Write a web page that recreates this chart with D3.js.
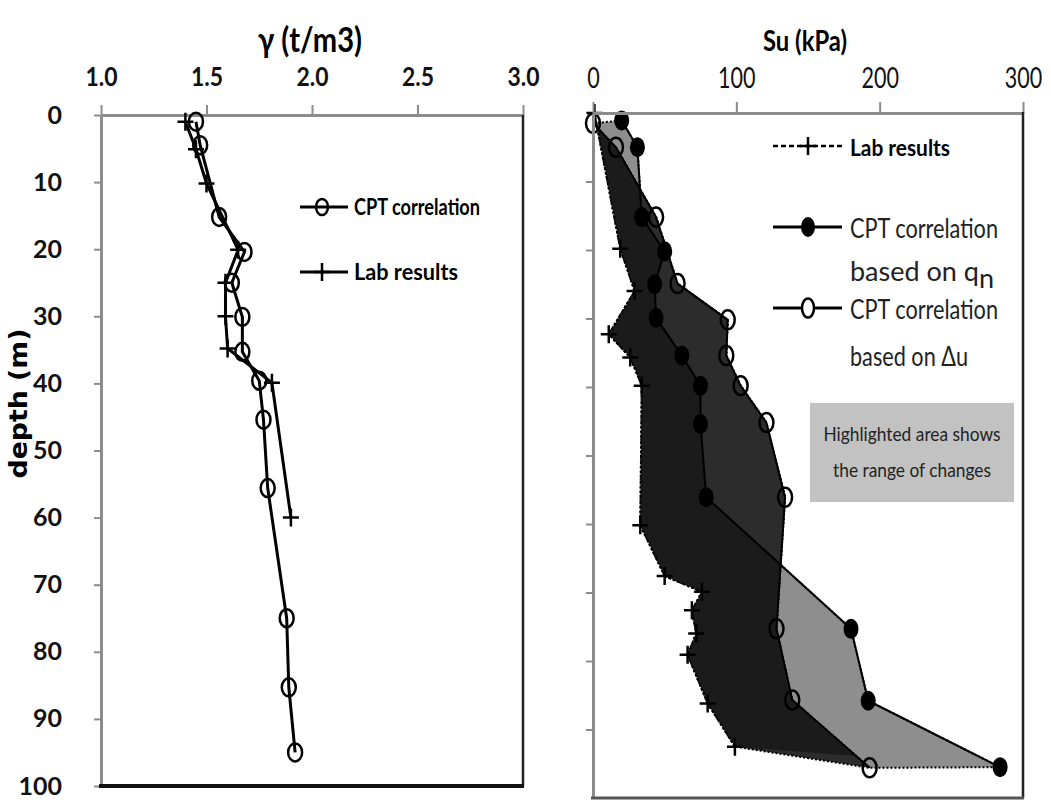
<!DOCTYPE html>
<html>
<head>
<meta charset="utf-8">
<script src="https://cdn.jsdelivr.net/npm/d3@7"></script>
<style>
  html, body { margin: 0; padding: 0; background: #fff; }
  svg { display: block; }
</style>
</head>
<body>
<div id="chart"></div>
<script>
// depth axis (m), shared by both panels
const depthTicks = [0, 10, 20, 30, 40, 50, 60, 70, 80, 90, 100];
const gammaTicks = [1.0, 1.5, 2.0, 2.5, 3.0];
const suTicks = [0, 100, 200, 300];

// unit weight, CPT correlation
const gammaCptDepth = [1.0, 4.5, 15.2, 20.4, 25.0, 30.1, 35.3, 39.6, 45.4, 55.6, 75.0, 85.3, 95.0];
const gammaCpt = [1.45, 1.47, 1.56, 1.68, 1.62, 1.67, 1.67, 1.75, 1.77, 1.79, 1.88, 1.89, 1.92];
// unit weight, lab results
const gammaLabDepth = [1.0, 5.1, 10.2, 20.1, 25.0, 30.0, 34.8, 39.9, 60.0];
const gammaLab = [1.40, 1.45, 1.50, 1.65, 1.59, 1.59, 1.60, 1.81, 1.90];

// Su, CPT correlation based on qn
const suQnDepth = [1.1, 5.0, 15.2, 20.2, 25.0, 29.9, 35.4, 39.8, 45.4, 56.1, 75.3, 85.8, 95.5];
const suQn = [20, 31, 34, 50, 43, 44, 62, 75, 75, 79, 180, 192, 284];
// Su, CPT correlation based on du
const suDuDepth = [1.5, 5.0, 15.2, 24.9, 30.2, 35.4, 39.8, 45.2, 56.1, 75.3, 85.7, 95.6];
const suDu = [0, 16, 44, 59, 94, 93, 103, 121, 134, 128, 139, 193];
// Su, lab results
const suLabDepth = [0, 19.8, 26.0, 32.3, 35.7, 39.8, 60.2, 67.6, 69.9, 72.6, 76.0, 79.1, 86.2, 92.5];
const suLab = [1, 19, 29, 11, 26, 34, 33, 50, 76, 69, 72, 66, 80, 99];

const W = 1051, H = 807;
const svg = d3.select('#chart').append('svg')
    .attr('width', W).attr('height', H)
    .attr('viewBox', `0 0 ${W} ${H}`);

const zip = (xs, ys) => xs.map((v, i) => [v, ys[i]]);
const plusPath = 'M-8,0H8M0,-9V9';

function txt(g, x, y, s, o) {
    const t = g.append('text')
        .attr('x', x).attr('y', y)
        .attr('font-family', o.family || 'Lato, "Open Sans", sans-serif')
        .attr('font-size', o.size)
        .attr('font-weight', o.weight || 'normal')
        .attr('text-anchor', o.anchor || 'start')
        .attr('fill', o.fill || '#000')
        .text(s);
    if (o.len) t.attr('textLength', o.len).attr('lengthAdjust', 'spacingAndGlyphs');
    return t;
}

function styleAxis(g, col, w) {
    g.select('.domain').attr('stroke', col).attr('stroke-width', w);
    g.selectAll('.tick line').attr('stroke', col).attr('stroke-width', 2);
}

// ---------- left panel: unit weight ----------
const xL = d3.scaleLinear().domain([1, 3]).range([101, 523]);
const yL = d3.scaleLinear().domain([0, 100]).range([115, 786]);
const left = svg.append('g');

const axTopL = left.append('g')
    .attr('transform', `translate(0,${yL(0)})`)
    .call(d3.axisTop(xL).tickValues(gammaTicks).tickSize(10).tickSizeOuter(0)
        .tickPadding(19).tickFormat(d3.format('.1f')));
styleAxis(axTopL, '#8c8c8c', 3);
axTopL.selectAll('.tick text')
    .attr('font-family', 'Lato, sans-serif').attr('font-size', 26)
    .attr('font-weight', 'bold').attr('fill', '#111')
    .attr('textLength', 32).attr('lengthAdjust', 'spacingAndGlyphs');

const axLeftL = left.append('g')
    .attr('transform', `translate(${xL(1)},0)`)
    .call(d3.axisLeft(yL).tickValues(depthTicks).tickSize(7).tickSizeOuter(0).tickPadding(32));
styleAxis(axLeftL, '#8c8c8c', 3);
axLeftL.selectAll('.tick text')
    .attr('font-family', 'Lato, sans-serif').attr('font-size', 25)
    .attr('font-weight', 'bold').attr('fill', '#111');

// frame right + bottom
left.append('line').attr('x1', xL(3)).attr('x2', xL(3)).attr('y1', yL(0)).attr('y2', yL(100))
    .attr('stroke', '#222').attr('stroke-width', 2.5);
left.append('line').attr('x1', xL(1) - 2).attr('x2', xL(3) + 1).attr('y1', yL(100)).attr('y2', yL(100))
    .attr('stroke', '#111').attr('stroke-width', 4);

txt(left, 310, 52, 'γ (t/m3)', { size: 35, weight: 'bold', anchor: 'middle', len: 104 });
txt(left, 0, 0, 'depth (m)', { size: 25, weight: 'bold', anchor: 'middle', family: '"DejaVu Sans", sans-serif', len: 150 })
    .attr('transform', `translate(27,${yL(43)}) rotate(-90)`);

const lineL = d3.line().x(d => xL(d[0])).y(d => yL(d[1]));
const cptL = zip(gammaCpt, gammaCptDepth);
const labL = zip(gammaLab, gammaLabDepth);

left.append('path').datum(labL).attr('d', lineL)
    .attr('fill', 'none').attr('stroke', '#000').attr('stroke-width', 3);
left.append('path').datum(cptL).attr('d', lineL)
    .attr('fill', 'none').attr('stroke', '#000').attr('stroke-width', 3);
left.selectAll('path.labL').data(labL).enter().append('path')
    .attr('class', 'labL')
    .attr('transform', d => `translate(${xL(d[0])},${yL(d[1])})`)
    .attr('d', plusPath).attr('stroke', '#000').attr('stroke-width', 2.5);
left.selectAll('ellipse.cptL').data(cptL).enter().append('ellipse')
    .attr('class', 'cptL')
    .attr('cx', d => xL(d[0])).attr('cy', d => yL(d[1]))
    .attr('rx', 7).attr('ry', 9)
    .attr('fill', 'none').attr('stroke', '#000').attr('stroke-width', 2.5);

// left legend
const legL = left.append('g');
legL.append('line').attr('x1', 300).attr('x2', 348).attr('y1', 207).attr('y2', 207)
    .attr('stroke', '#000').attr('stroke-width', 3);
legL.append('ellipse').attr('cx', 322).attr('cy', 207).attr('rx', 6).attr('ry', 8)
    .attr('fill', 'none').attr('stroke', '#000').attr('stroke-width', 2.5);
txt(legL, 354, 215, 'CPT correlation', { size: 22, weight: 'bold', len: 126 });
legL.append('line').attr('x1', 300).attr('x2', 348).attr('y1', 272).attr('y2', 272)
    .attr('stroke', '#000').attr('stroke-width', 3);
legL.append('path').attr('transform', 'translate(322,272)').attr('d', plusPath)
    .attr('stroke', '#000').attr('stroke-width', 2.5);
txt(legL, 354, 280, 'Lab results', { size: 22, weight: 'bold', len: 104 });

// ---------- right panel: undrained shear strength ----------
const xR = d3.scaleLinear().domain([0, 300]).range([593, 1023]);
const yR = d3.scaleLinear().domain([0, 100]).range([113, 798]);
const right = svg.append('g');

const qnR = zip(suQn, suQnDepth);
const duR = zip(suDu, suDuDepth);
const labR = zip(suLab, suLabDepth);
const lineR = d3.line().x(d => xR(d[0])).y(d => yR(d[1]));
const poly = (a, b) => lineR(a.concat(b.slice().reverse())) + 'Z';

right.append('defs').append('clipPath').attr('id', 'labDuClip')
    .append('path').attr('d', poly(labR, duR));

// range between the two CPT correlations
right.append('path').attr('d', poly(qnR, duR))
    .attr('fill', '#8e8e8e').attr('stroke', '#000').attr('stroke-width', 2)
    .attr('stroke-dasharray', '2,2');
// lab to du
right.append('path').attr('d', poly(labR, duR))
    .attr('fill', '#2c2c2c').attr('stroke', '#000').attr('stroke-width', 2)
    .attr('stroke-dasharray', '2,2');
// lab to qn (inside lab-du)
right.append('path').attr('d', poly(labR, qnR))
    .attr('clip-path', 'url(#labDuClip)')
    .attr('fill', '#1b1b1b');

right.append('path').datum(labR).attr('d', lineR)
    .attr('fill', 'none').attr('stroke', '#000').attr('stroke-width', 2)
    .attr('stroke-dasharray', '3,2');
right.append('path').datum(duR).attr('d', lineR)
    .attr('fill', 'none').attr('stroke', '#000').attr('stroke-width', 2);
right.append('path').datum(qnR).attr('d', lineR)
    .attr('fill', 'none').attr('stroke', '#000').attr('stroke-width', 2);

right.selectAll('path.labR').data(labR).enter().append('path')
    .attr('class', 'labR')
    .attr('transform', d => `translate(${xR(d[0])},${yR(d[1])})`)
    .attr('d', plusPath).attr('stroke', '#000').attr('stroke-width', 2.5);
right.selectAll('ellipse.qnR').data(qnR).enter().append('ellipse')
    .attr('class', 'qnR')
    .attr('cx', d => xR(d[0])).attr('cy', d => yR(d[1]))
    .attr('rx', 7.5).attr('ry', 10).attr('fill', '#000');
right.selectAll('ellipse.duR').data(duR).enter().append('ellipse')
    .attr('class', 'duR')
    .attr('cx', d => xR(d[0])).attr('cy', d => yR(d[1]))
    .attr('rx', 7).attr('ry', 9.5)
    .attr('fill', 'none').attr('stroke', '#000').attr('stroke-width', 2.5);

const axTopR = right.append('g')
    .attr('transform', `translate(0,${yR(0)})`)
    .call(d3.axisTop(xR).tickValues(suTicks).tickSize(11).tickSizeOuter(0).tickPadding(14));
styleAxis(axTopR, '#8c8c8c', 3);
axTopR.selectAll('.tick text')
    .attr('font-family', 'Lato, sans-serif').attr('font-size', 29)
    .attr('fill', '#111')
    .attr('textLength', d => String(d).length * 12.5).attr('lengthAdjust', 'spacingAndGlyphs');

const axLeftR = right.append('g')
    .attr('transform', `translate(${xR(0)},0)`)
    .call(d3.axisLeft(yR).tickValues(depthTicks.slice(1, -1)).tickSize(7).tickSizeOuter(0).tickFormat(''));
styleAxis(axLeftR, '#8c8c8c', 3);

right.append('line').attr('x1', xR(300)).attr('x2', xR(300)).attr('y1', yR(0) - 1).attr('y2', yR(100))
    .attr('stroke', '#222').attr('stroke-width', 2.5);
right.append('line').attr('x1', xR(0) - 2).attr('x2', xR(300) + 1).attr('y1', yR(100)).attr('y2', yR(100))
    .attr('stroke', '#555').attr('stroke-width', 3);

txt(right, 805, 51, 'Su (kPa)', { size: 29, weight: 'bold', anchor: 'middle', len: 84 });

// right legend
const legR = right.append('g');
legR.append('line').attr('x1', 773).attr('x2', 842).attr('y1', 146).attr('y2', 146)
    .attr('stroke', '#000').attr('stroke-width', 2.5).attr('stroke-dasharray', '5,3');
legR.append('path').attr('transform', 'translate(808,146)').attr('d', plusPath)
    .attr('stroke', '#000').attr('stroke-width', 2.5);
txt(legR, 850, 156, 'Lab results', { size: 22, weight: 'bold', len: 100 });

legR.append('line').attr('x1', 773).attr('x2', 842).attr('y1', 227).attr('y2', 227)
    .attr('stroke', '#000').attr('stroke-width', 3);
legR.append('ellipse').attr('cx', 808).attr('cy', 227).attr('rx', 7).attr('ry', 10).attr('fill', '#000');
txt(legR, 850, 238, 'CPT correlation', { size: 27, fill: '#222', len: 148 });
const qnLab = txt(legR, 850, 281, 'based on q', { size: 27, fill: '#222' });
qnLab.append('tspan').attr('dy', 7).text('n');

legR.append('line').attr('x1', 773).attr('x2', 842).attr('y1', 308).attr('y2', 308)
    .attr('stroke', '#000').attr('stroke-width', 3);
legR.append('ellipse').attr('cx', 808).attr('cy', 308).attr('rx', 6).attr('ry', 9.5)
    .attr('fill', '#fff').attr('stroke', '#000').attr('stroke-width', 2.5);
txt(legR, 850, 319, 'CPT correlation', { size: 27, fill: '#222', len: 148 });
txt(legR, 850, 366, 'based on Δu', { size: 27, fill: '#222', len: 118 });

// note box
right.append('rect').attr('x', 810).attr('y', 403).attr('width', 204).attr('height', 99)
    .attr('fill', '#c2c2c2');
txt(right, 912, 441, 'Highlighted area shows', { size: 19, fill: '#222', anchor: 'middle', len: 177 });
txt(right, 912, 477, 'the range of changes', { size: 19, fill: '#222', anchor: 'middle', len: 158 });
</script>
</body>
</html>
